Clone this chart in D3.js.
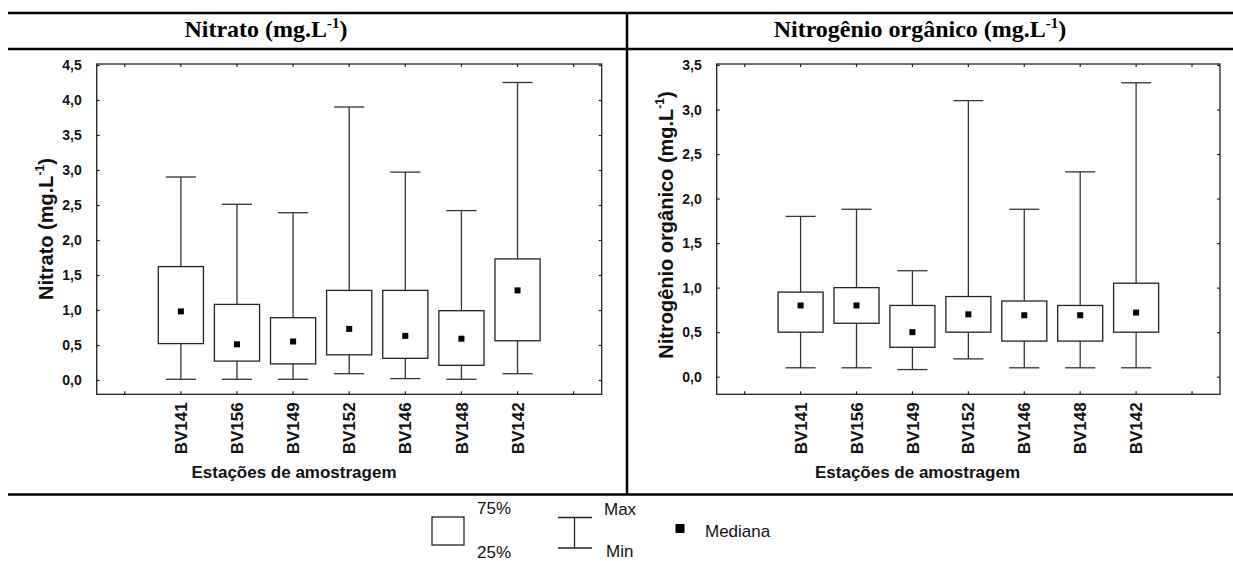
<!DOCTYPE html>
<html>
<head>
<meta charset="utf-8">
<script src="https://cdn.jsdelivr.net/npm/d3@7"></script>
<style>
  body { margin: 0; background: #fff; }
  svg { display: block; }
</style>
</head>
<body>
<svg id="chart" width="1233" height="561"></svg>
<script>
// Sampling stations (same order in both panels)
const stations = ["BV141", "BV156", "BV149", "BV152", "BV146", "BV148", "BV142"];

// Nitrato (mg.L-1): min, 25%, median, 75%, max per station
const nitratoMin    = [0.01, 0.01, 0.01, 0.09, 0.02, 0.01, 0.09];
const nitratoQ1     = [0.52, 0.27, 0.23, 0.36, 0.31, 0.21, 0.56];
const nitratoMedian = [0.98, 0.51, 0.55, 0.73, 0.63, 0.59, 1.28];
const nitratoQ3     = [1.62, 1.08, 0.89, 1.28, 1.28, 0.99, 1.73];
const nitratoMax    = [2.90, 2.51, 2.39, 3.90, 2.97, 2.42, 4.25];
const nitratoTicks  = [0, 0.5, 1, 1.5, 2, 2.5, 3, 3.5, 4, 4.5];

// Nitrogênio orgânico (mg.L-1)
const orgMin    = [0.10, 0.10, 0.08, 0.20, 0.10, 0.10, 0.10];
const orgQ1     = [0.50, 0.60, 0.33, 0.50, 0.40, 0.40, 0.50];
const orgMedian = [0.80, 0.80, 0.50, 0.70, 0.69, 0.69, 0.72];
const orgQ3     = [0.95, 1.00, 0.80, 0.90, 0.85, 0.80, 1.05];
const orgMax    = [1.80, 1.88, 1.19, 3.10, 1.88, 2.30, 3.30];
const orgTicks  = [0, 0.5, 1, 1.5, 2, 2.5, 3, 3.5];

const svg = d3.select("#chart");

// Pick a condensed sans if the system has it
function hasFont(name) {
  const ctx = document.createElement("canvas").getContext("2d");
  ctx.font = "20px monospace";
  const base = ctx.measureText("BV141 Estações 0,5").width;
  ctx.font = `20px '${name}', monospace`;
  return ctx.measureText("BV141 Estações 0,5").width !== base;
}
const SANS = "'Liberation Sans', Arial, Helvetica, sans-serif";
const narrowOK = hasFont("Liberation Sans Narrow");
const NARROW = narrowOK ? "'Liberation Sans Narrow', " + SANS : SANS;
const SERIF = "'Liberation Serif', 'Times New Roman', Times, serif";

const comma = d3.formatLocale({decimal: ",", thousands: ".", grouping: [3], currency: ["", ""]}).format(".1f");

const INK = "#222";

// Page rules framing the two panels
const rules = svg.append("g").attr("stroke", "#000").attr("fill", "none");
rules.append("line").attr("x1", 8).attr("x2", 1233).attr("y1", 13).attr("y2", 13).attr("stroke-width", 2.5);
rules.append("line").attr("x1", 8).attr("x2", 1233).attr("y1", 49).attr("y2", 49).attr("stroke-width", 2.5);
rules.append("line").attr("x1", 8).attr("x2", 1233).attr("y1", 494.5).attr("y2", 494.5).attr("stroke-width", 2.5);
rules.append("line").attr("x1", 627).attr("x2", 627).attr("y1", 13).attr("y2", 494.5).attr("stroke-width", 2.5);

function panel(cfg) {
  const g = svg.append("g");
  const x = d3.scaleBand().domain(stations).range([cfg.left, cfg.right]).paddingInner(0).paddingOuter(1);
  const step = x.step();
  const y = d3.scaleLinear().domain(cfg.domain).range(cfg.range);
  const slotCenters = d3.range(stations.length + 2).map(k => cfg.left + step * (k + 0.5));

  // Panel heading
  const t = g.append("text")
    .attr("x", cfg.titleX).attr("y", 37)
    .attr("text-anchor", "middle")
    .attr("font-family", SERIF).attr("font-weight", "bold").attr("font-size", 24)
    .attr("fill", "#000");
  t.append("tspan").text(cfg.title + " (mg.L");
  t.append("tspan").attr("font-size", 15).attr("dy", -9).text("-1");
  t.append("tspan").attr("dy", 9).text(")");

  // Frame
  g.append("rect")
    .attr("x", cfg.left).attr("y", cfg.top)
    .attr("width", cfg.right - cfg.left).attr("height", cfg.bottom - cfg.top)
    .attr("fill", "none").attr("stroke", INK).attr("stroke-width", 1.3);

  // Inward ticks on all four sides
  const tk = g.append("g").attr("stroke", INK).attr("stroke-width", 1.2);
  slotCenters.forEach(cx => {
    tk.append("line").attr("x1", cx).attr("x2", cx).attr("y1", cfg.bottom).attr("y2", cfg.bottom - 3);
    tk.append("line").attr("x1", cx).attr("x2", cx).attr("y1", cfg.top).attr("y2", cfg.top + 3);
  });

  const yAxis = d3.axisLeft(y).tickValues(cfg.ticks).tickFormat(comma).tickSizeInner(-3).tickSizeOuter(0).tickPadding(15);
  const ya = g.append("g").attr("transform", `translate(${cfg.left},0)`).call(yAxis);
  ya.select(".domain").remove();
  ya.selectAll(".tick line").attr("stroke", INK).attr("stroke-width", 1.2);
  ya.selectAll(".tick text")
    .attr("font-family", NARROW).attr("font-weight", "bold")
    .attr("font-size", narrowOK ? 16 : 14).attr("fill", "#111");

  const yRight = d3.axisRight(y).tickValues(cfg.ticks).tickFormat("").tickSizeInner(-3).tickSizeOuter(0);
  const yr = g.append("g").attr("transform", `translate(${cfg.right},0)`).call(yRight);
  yr.select(".domain").remove();
  yr.selectAll(".tick line").attr("stroke", INK).attr("stroke-width", 1.2);

  // Station labels, rotated
  g.append("g").selectAll("text").data(stations).join("text")
    .attr("transform", d => `translate(${x(d) + step / 2},${cfg.bottom + 8}) rotate(-90)`)
    .attr("dy", "0.36em")
    .attr("text-anchor", "end")
    .attr("font-family", SANS).attr("font-weight", "bold").attr("font-size", 17)
    .attr("fill", "#111")
    .text(d => d);

  // Axis titles
  g.append("text")
    .attr("x", cfg.xTitleX).attr("y", 478)
    .attr("text-anchor", "middle")
    .attr("font-family", NARROW).attr("font-weight", "bold").attr("font-size", narrowOK ? 20 : 17)
    .attr("fill", "#111")
    .text("Estações de amostragem");

  const yl = g.append("text")
    .attr("transform", `translate(${cfg.yTitleX},${cfg.yTitleY}) rotate(-90)`)
    .attr("text-anchor", "middle")
    .attr("font-family", SANS).attr("font-weight", "bold").attr("font-size", 20)
    .attr("fill", "#111");
  yl.append("tspan").text(cfg.title + " (mg.L");
  yl.append("tspan").attr("font-size", 12).attr("dy", -9).text("-1");
  yl.append("tspan").attr("dy", 9).text(")");

  // Box-and-whisker marks
  const boxW = step * 0.805, capW = step * 0.537, medS = 6;
  const rows = stations.map((s, i) => ({s, min: cfg.min[i], q1: cfg.q1[i], med: cfg.median[i], q3: cfg.q3[i], max: cfg.max[i]}));
  const b = g.append("g").selectAll("g").data(rows).join("g")
    .attr("transform", d => `translate(${x(d.s) + step / 2},0)`);
  b.append("line").attr("x1", 0).attr("x2", 0).attr("y1", d => y(d.max)).attr("y2", d => y(d.q3))
    .attr("stroke", "#333").attr("stroke-width", 1.3);
  b.append("line").attr("x1", 0).attr("x2", 0).attr("y1", d => y(d.q1)).attr("y2", d => y(d.min))
    .attr("stroke", "#333").attr("stroke-width", 1.3);
  b.append("line").attr("x1", -capW / 2).attr("x2", capW / 2).attr("y1", d => y(d.max)).attr("y2", d => y(d.max))
    .attr("stroke", "#333").attr("stroke-width", 1.3);
  b.append("line").attr("x1", -capW / 2).attr("x2", capW / 2).attr("y1", d => y(d.min)).attr("y2", d => y(d.min))
    .attr("stroke", "#333").attr("stroke-width", 1.3);
  b.append("rect").attr("x", -boxW / 2).attr("width", boxW)
    .attr("y", d => y(d.q3)).attr("height", d => y(d.q1) - y(d.q3))
    .attr("fill", "#fff").attr("stroke", INK).attr("stroke-width", 1.3);
  b.append("rect").attr("x", -medS / 2).attr("width", medS)
    .attr("y", d => y(d.med) - medS / 2).attr("height", medS)
    .attr("fill", "#000");
}

panel({
  title: "Nitrato", titleX: 266, xTitleX: 294, yTitleX: 53, yTitleY: 229,
  left: 96.7, right: 601.7, top: 64, bottom: 394.3,
  domain: [0, 4.5], range: [380, 65], ticks: nitratoTicks,
  min: nitratoMin, q1: nitratoQ1, median: nitratoMedian, q3: nitratoQ3, max: nitratoMax
});

panel({
  title: "Nitrogênio orgânico", titleX: 920, xTitleX: 917.5, yTitleX: 673, yTitleY: 225,
  left: 716.7, right: 1220, top: 64, bottom: 394.3,
  domain: [0, 3.5], range: [376.7, 65], ticks: orgTicks,
  min: orgMin, q1: orgQ1, median: orgMedian, q3: orgQ3, max: orgMax
});

// Legend
const lg = svg.append("g").attr("font-family", SANS).attr("font-size", 17).attr("fill", "#111");
lg.append("rect").attr("x", 432).attr("y", 517).attr("width", 32).attr("height", 28)
  .attr("fill", "#fff").attr("stroke", INK).attr("stroke-width", 1.3);
lg.append("text").attr("x", 477).attr("y", 514).text("75%");
lg.append("text").attr("x", 477).attr("y", 558).text("25%");
const wk = lg.append("g").attr("stroke", INK).attr("stroke-width", 1.3);
wk.append("line").attr("x1", 574.5).attr("x2", 574.5).attr("y1", 517.5).attr("y2", 548);
wk.append("line").attr("x1", 558).attr("x2", 592).attr("y1", 517.5).attr("y2", 517.5);
wk.append("line").attr("x1", 558).attr("x2", 592).attr("y1", 548).attr("y2", 548);
lg.append("text").attr("x", 604).attr("y", 515).text("Max");
lg.append("text").attr("x", 606).attr("y", 557).text("Min");
lg.append("rect").attr("x", 675.5).attr("y", 524).attr("width", 9).attr("height", 9).attr("fill", "#000");
lg.append("text").attr("x", 705).attr("y", 537).text("Mediana");
</script>
</body>
</html>
